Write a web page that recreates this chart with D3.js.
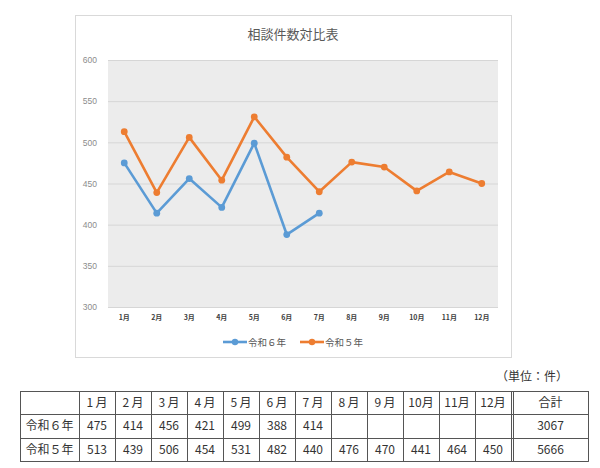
<!DOCTYPE html>
<html>
<head>
<meta charset="utf-8">
<script src="https://cdn.jsdelivr.net/npm/d3@7"></script>
<style>
  body { margin: 0; background: #fff; }
  svg { display: block; }
</style>
</head>
<body>
<svg id="chart" width="600" height="468"></svg>
<script>
// data
var months = ["1月","2月","3月","4月","5月","6月","7月","8月","9月","10月","11月","12月"];
var tableMonths = ["1\u2009月","2\u2009月","3\u2009月","4\u2009月","5\u2009月","6\u2009月","7\u2009月","8\u2009月","9\u2009月","10月","11月","12月"];
var r6 = [475, 414, 456, 421, 499, 388, 414];
var r5 = [513, 439, 506, 454, 531, 482, 440, 476, 470, 441, 464, 450];
var seriesNames = ["令和６年", "令和５年"];
var colors = ["#5B9BD5", "#ED7D31"];
var yTicks = [300, 350, 400, 450, 500, 550, 600];
var totals = [3067, 5666];

var svg = d3.select("#chart"),
    jp = "'Noto Sans CJK JP', sans-serif";

// chart frame
svg.append("rect")
    .attr("x", 75.5).attr("y", 15.5)
    .attr("width", 436).attr("height", 342)
    .attr("fill", "#fff").attr("stroke", "#d9d9d9");

svg.append("text")
    .attr("x", 293).attr("y", 39)
    .attr("text-anchor", "middle")
    .attr("font-family", jp).attr("font-size", 13)
    .attr("fill", "#595959")
    .text("相談件数対比表");

var plot = {left: 108, right: 498, top: 60, bottom: 307};

var x = d3.scaleBand().domain(months).range([plot.left, plot.right]);
var y = d3.scaleLinear().domain([300, 600]).range([plot.bottom, plot.top]);

svg.append("rect")
    .attr("x", plot.left).attr("y", plot.top)
    .attr("width", plot.right - plot.left).attr("height", plot.bottom - plot.top)
    .attr("fill", "#ececec");

// gridlines
svg.append("g").selectAll("line")
    .data(yTicks).join("line")
    .attr("x1", plot.left).attr("x2", plot.right)
    .attr("y1", function(d){ return y(d) + 0.5; })
    .attr("y2", function(d){ return y(d) + 0.5; })
    .attr("stroke", "#d6d6d6").attr("stroke-width", 1);

// y axis labels
var yAxis = svg.append("g")
    .attr("transform", "translate(" + (plot.left - 11) + ",0)")
    .call(d3.axisLeft(y).tickValues(yTicks).tickSize(0).tickPadding(0));
yAxis.select(".domain").remove();
yAxis.selectAll("text")
    .attr("font-family", "'Liberation Sans', Arial, sans-serif")
    .attr("font-size", 8.5).attr("fill", "#8c8c8c");

// x axis labels
var xAxis = svg.append("g")
    .attr("transform", "translate(0," + (plot.bottom + 7) + ")")
    .call(d3.axisBottom(x).tickSize(0).tickPadding(0));
xAxis.select(".domain").remove();
xAxis.selectAll("text")
    .attr("font-family", jp).attr("font-size", 7).attr("font-weight", "bold")
    .attr("fill", "#404040")
    .attr("dy", "0.9em");

var line = d3.line()
    .x(function(d, i){ return x(months[i]) + x.bandwidth() / 2; })
    .y(function(d){ return y(d); });

[r5, r6].forEach(function(vals, k){
    var c = k === 0 ? colors[1] : colors[0];
    svg.append("path")
        .datum(vals)
        .attr("d", line)
        .attr("fill", "none")
        .attr("stroke", c)
        .attr("stroke-width", 2.6)
        .attr("stroke-linejoin", "round");
    svg.append("g").selectAll("circle")
        .data(vals).join("circle")
        .attr("cx", function(d, i){ return x(months[i]) + x.bandwidth() / 2; })
        .attr("cy", function(d){ return y(d); })
        .attr("r", 3.4)
        .attr("fill", c);
});

// legend
var legend = svg.append("g");
[[223, 0], [300, 1]].forEach(function(p){
    var lx = p[0], k = p[1];
    legend.append("line")
        .attr("x1", lx).attr("x2", lx + 24)
        .attr("y1", 342).attr("y2", 342)
        .attr("stroke", colors[k]).attr("stroke-width", 2.6);
    legend.append("circle")
        .attr("cx", lx + 12).attr("cy", 342).attr("r", 3.2)
        .attr("fill", colors[k]);
    legend.append("text")
        .attr("x", lx + 25).attr("y", 346)
        .attr("font-family", jp).attr("font-size", 9.5)
        .attr("fill", "#595959")
        .text(seriesNames[k]);
});

// table
svg.append("text")
    .attr("x", 568).attr("y", 381)
    .attr("text-anchor", "end")
    .attr("font-family", jp).attr("font-size", 12)
    .attr("fill", "#333")
    .text("（単位：件）");

var tLeft = 20, firstW = 59, colW = 36, totalW = 77, rowH = 23.3, tTop = 391;
var colX = [tLeft, tLeft + firstW];
for (var i = 1; i <= 12; i++) colX.push(tLeft + firstW + i * colW);
var tRight = colX[13] + totalW;
colX.push(tRight);

var tbl = svg.append("g").attr("font-family", jp).attr("font-size", 12).attr("fill", "#333");

// horizontal rules
d3.range(4).forEach(function(r){
    tbl.append("line")
        .attr("x1", tLeft).attr("x2", tRight)
        .attr("y1", Math.round(tTop + r * rowH) + 0.5)
        .attr("y2", Math.round(tTop + r * rowH) + 0.5)
        .attr("stroke", "#555").attr("stroke-width", 1);
});
// vertical rules
colX.forEach(function(cx, j){
    tbl.append("line")
        .attr("x1", Math.round(cx) + 0.5).attr("x2", Math.round(cx) + 0.5)
        .attr("y1", tTop).attr("y2", tTop + 3 * rowH + 1)
        .attr("stroke", "#555").attr("stroke-width", 1);
    if (j === 13) {
        tbl.append("line")
            .attr("x1", Math.round(cx) + 2.5).attr("x2", Math.round(cx) + 2.5)
            .attr("y1", tTop).attr("y2", tTop + 3 * rowH + 1)
            .attr("stroke", "#555").attr("stroke-width", 1);
    }
});

function cellText(col, row, txt){
    var cx = (colX[col] + colX[col + 1]) / 2 + (col === 13 ? 1 : 0);
    tbl.append("text")
        .attr("x", cx).attr("y", tTop + row * rowH + rowH / 2 + 4.5)
        .attr("text-anchor", "middle")
        .text(txt);
}

tableMonths.forEach(function(m, i){ cellText(i + 1, 0, m); });
cellText(13, 0, "合計");
cellText(0, 1, "令和６年");
cellText(0, 2, "令和５年");
r6.forEach(function(v, i){ cellText(i + 1, 1, v); });
r5.forEach(function(v, i){ cellText(i + 1, 2, v); });
cellText(13, 1, totals[0]);
cellText(13, 2, totals[1]);
</script>
</body>
</html>
